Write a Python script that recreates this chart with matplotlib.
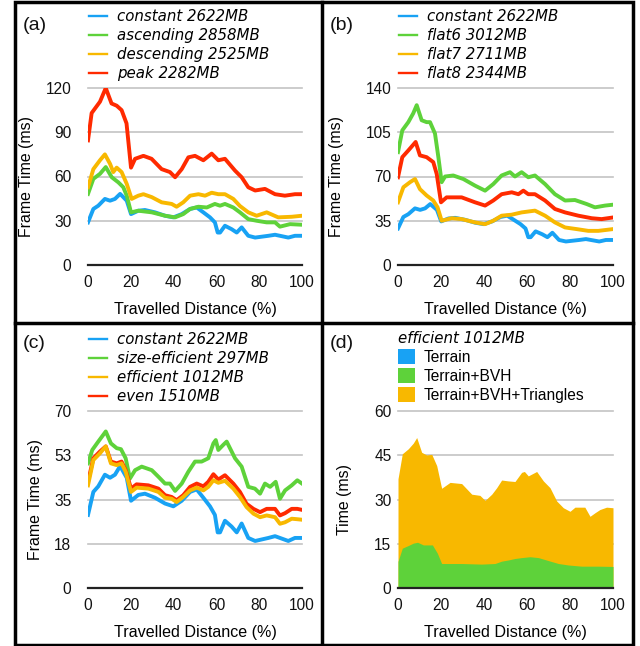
import matplotlib.pyplot as plt
from matplotlib.patches import Patch, Rectangle
from matplotlib.lines import Line2D

plt.rcParams['font.family'] = ['Liberation Sans', 'DejaVu Sans']

# ---------- data ----------
# constant 2622MB, shared by panels a, b, c
const_x = [0, 2.5, 4.8, 7.9, 10.3, 12.6, 15, 16.5, 18.1, 20.1, 23.5, 26.6, 31.3, 36,
           39.9, 43.8, 47.7, 50.8, 53.9, 57, 59.3, 60.6, 61.7, 64, 67.1, 69.5, 71.8,
           74.9, 78.1, 84.3, 87.4, 93.6, 96.7, 100]
const_y = [28.9, 38, 40.2, 44.8, 43.6, 44.8, 48.2, 46, 43.6, 34.5, 36.8, 37.3, 35.7, 33.4,
           32.3, 34.5, 38, 39, 35.7, 32.3, 28.9, 22, 22, 26.6, 24.3, 22, 25.5,
           19.8, 18.6, 19.8, 20.5, 18.6, 19.8, 19.8]

# panel (a)
asc_x = [0, 2.5, 5.6, 8.3, 11.1, 14.2, 16.5, 18.1, 20.1, 23.5, 29.8, 36, 40.7, 44.5, 47.7,
         51.6, 55.5, 59.3, 61.7, 64, 67.9, 71, 74.9, 78.8, 83.5, 87.4, 89.7, 94.4, 100]
asc_y = [48.2, 58.4, 61.8, 66.4, 59.5, 56, 52.7, 47, 35.7, 36.8, 35.7, 33.4, 32.3, 34.5, 38,
         39.5, 39, 41.4, 40.2, 41.4, 39, 35.7, 31.1, 30, 28.9, 28.9, 26, 27.7, 27.3]
desc_x = [0, 2.5, 5.6, 7.9, 10.3, 11.8, 13.4, 15.7, 18.1, 20.4, 23.5, 25.9, 29.8, 34.4, 39.1,
          41.4, 44.5, 47.7, 51.6, 54.7, 57.8, 60.9, 64, 67.9, 71, 74.9, 78.8, 83.5, 88.9, 95.2, 100]
desc_y = [52.7, 65, 71, 75, 68.6, 63, 66, 63, 55, 44.8, 47, 48, 46, 42.5, 41.4,
          39.5, 42.5, 47, 48, 47, 49, 48, 48, 44.8, 40, 35.7, 33.4, 35.7, 32.3, 32.7, 33.4]
peak_x = [0, 1.7, 5.6, 8.3, 11, 13.4, 15.7, 18, 20.1, 22, 25.9, 29.7, 34.4, 38.3, 40.7, 43.8,
          46.9, 50, 53.9, 57.8, 60.9, 64, 68.7, 71.8, 74.9, 78.1, 82.7, 87.4, 92, 96.7, 100]
peak_y = [84.5, 103, 110.7, 120, 109.5, 108, 105, 96, 66, 72, 74, 72, 65, 63, 59.5, 65,
          73, 74, 71, 75.5, 71, 72, 64, 59.5, 52.7, 50.5, 51.6, 48, 47, 48, 48]

# panel (b)
flat6_x = [0, 2, 4.8, 7.1, 8.7, 11, 13.3, 14.9, 17.2, 18.8, 20.3, 21.9, 25.7, 30.4, 35.8, 40.5,
           44.3, 48.2, 52.1, 54.4, 57.5, 60.6, 63.7, 68.4, 73, 77.7, 82.3, 87.8, 91.6, 96.3, 100]
flat6_y = [89.3, 106.5, 113, 120, 126.4, 114.5, 113, 113, 104, 85, 65.5, 70, 70.8, 68, 62.8, 58.8,
           64, 70.8, 73.4, 70, 73.4, 69.4, 70.8, 64, 56, 51, 51.4, 48.2, 45.6, 47, 47.7]
flat7_x = [0, 2.5, 5.6, 7.9, 10.2, 13.3, 16.4, 18.4, 20.3, 25, 29.6, 35.8, 40.5, 44.3, 48.2,
           52.9, 57.5, 63.7, 68.4, 73, 77.7, 83.1, 88.5, 93.2, 100]
flat7_y = [49.6, 61.5, 65.5, 68, 60, 55, 51, 45.6, 35, 37, 36.3, 33.7, 32.3, 35, 39,
           39.8, 41.6, 43, 39, 33.7, 29.7, 28.4, 27, 27, 28.4]
flat8_x = [0, 2, 4.8, 8.2, 10.2, 13.3, 16.4, 18, 20, 22.6, 29.6, 35.8, 40.5, 44.3, 48.2, 52.9,
           56, 58.3, 60.6, 63.7, 68.4, 73, 77.7, 83.9, 90.1, 94.7, 100]
flat8_y = [69.4, 85.3, 90.6, 97.3, 86.7, 85.3, 81.4, 72, 49.6, 53.5, 53.5, 49.6, 47, 51, 56, 57.5,
           56, 58.8, 56, 56, 51, 44.3, 41.6, 39, 37, 36.3, 37.6]

# panel (c)
sizeeff_x = [0, 2, 4.8, 8.3, 10.7, 13.4, 15.4, 17.6, 19.6, 22, 25.1, 29.8, 32.9, 36, 38.3, 40.7,
             43.8, 46.9, 50, 53.1, 56.2, 58.6, 59.7, 60.9, 63.2, 64.8, 68.7, 71.8, 74.9, 78,
             80.4, 82.7, 85.1, 87.7, 89.7, 92.1, 95.2, 97.8, 100]
sizeeff_y = [49.3, 54.6, 57.9, 61.9, 57.2, 55.3, 54.9, 51.3, 43.3, 46.6, 48, 46.6, 44, 41.3, 41.3, 38.4,
             41.3, 46, 50, 50, 51.3, 57.2, 58.5, 54.6, 56.6, 57.9, 51.3, 48, 40, 39.3,
             37.3, 41.3, 40, 42, 35.3, 38.6, 40.6, 42.6, 41.3]
even_x = [0, 2.5, 5.6, 8.3, 10.7, 13.4, 15.7, 17.6, 20.1, 22.7, 28.2, 32.9, 36, 39.1, 41.4, 44.5,
          47.7, 50.8, 53.9, 56.2, 58.6, 60.9, 64, 67.9, 71, 74.1, 77.3, 80.4, 83.5, 87.4, 89.7,
          92.1, 95.2, 97.8, 100]
even_y = [42, 51.3, 54, 56, 50, 49.3, 50, 46.6, 39.3, 41, 40.6, 39.3, 36.7, 36, 34.7, 36.7,
          40, 41.3, 40.2, 42, 45, 42.9, 44.6, 41.3, 38, 33.3, 31.3, 30, 31.3, 31.3, 28.7,
          29.6, 31.3, 31.3, 30.9]
eff_x = even_x
eff_y = [40.6, 50.6, 53.3, 56, 49.3, 48.6, 49.3, 46, 38, 39.7, 39.3, 38, 35.7, 35.3, 34, 36,
         38.6, 39.7, 38.6, 40, 42.6, 41.6, 42.4, 39.3, 36, 32, 29.4, 28, 28.7, 28, 25.4,
         26, 27.4, 27.2, 27]

# panel (d): efficient 1012MB breakdown (cumulative)
tri_x = [0, 2, 4.8, 7.1, 8.7, 11, 13.3, 15.7, 18, 20.3, 24.2, 29.6, 34.3, 38.1, 40.5, 43.6, 45.9,
         48.2, 51.3, 54.4, 57.5, 58.8, 60.6, 64.5, 67.6, 70.7, 73.8, 76.9, 80, 82.3, 86.9, 89.3,
         91.6, 93.9, 97, 100]
tri_y = [37, 45.5, 47.2, 49.1, 51, 46, 45.1, 45.3, 41.5, 33.8, 35.8, 35.4, 31.8, 31.4, 29.7, 31.8, 34,
         36.6, 36.3, 36.1, 39.2, 39.5, 38, 39.5, 36.3, 34, 29.5, 27.2, 26, 27.4, 27.4, 24.3,
         25.5, 26.6, 27.4, 27.2]
bvh_x = [0, 2, 4.8, 7.1, 9.1, 11.8, 16, 18.3, 20.3, 29.6, 38.9, 45.1, 48.2, 51.3, 54.4, 57.5,
         61.4, 65.3, 69.9, 74.6, 79.2, 85.4, 93.2, 100]
bvh_y = [9, 13.5, 14.4, 15.2, 15.5, 14.6, 14.6, 11.8, 8.3, 8.3, 8.1, 8.3, 9.1, 9.5, 10, 10.3,
         10.6, 10.3, 9.3, 8.3, 7.8, 7.4, 7.4, 7.3]
terrain_x = [0, 100]
terrain_y = [0.5, 0.5]

BLUE = '#18a2f4'
GREEN = '#5ed23a'
YELLOW = '#f8b800'
RED = '#ff2a00'
FS = 11.2
LEG_FONT = {'family': 'DejaVu Sans', 'style': 'italic', 'size': 10.8}

# ---------- figure ----------
W, H = 640, 646
fig = plt.figure(figsize=(W / 100, H / 100), dpi=100)


def px_axes(left, top, right, bottom):
    return fig.add_axes([left / W, 1 - bottom / H, (right - left) / W, (bottom - top) / H])


def style(ax, ymax, yticks, ylabels, ypad, ylab, ylab_x):
    ax.set_xlim(0, 100)
    ax.set_ylim(0, ymax)
    ax.set_xticks(range(0, 101, 20))
    ax.set_yticks(yticks, ylabels)
    for s in ['left', 'right', 'top']:
        ax.spines[s].set_visible(False)
    ax.spines['bottom'].set_color('#222222')
    ax.spines['bottom'].set_linewidth(1.6)
    ax.spines['bottom'].set_zorder(5)
    ax.tick_params(length=0, labelsize=FS, colors='#111111')
    ax.tick_params(axis='y', pad=ypad)
    ax.tick_params(axis='x', pad=7)
    ax.yaxis.grid(True, color='#c4c4c4', lw=1.2)
    ax.set_axisbelow(True)
    for gl in ax.get_ygridlines():
        gl.set_clip_on(False)
    ax.set_xlabel('Travelled Distance (%)', fontsize=11.6, va='center')
    ax.xaxis.set_label_coords(0.5, -0.25)
    ax.set_ylabel(ylab, fontsize=11.4, va='center')
    ax.yaxis.set_label_coords(ylab_x, 0.5)


def line_legend(ax, x, y, handles=None, labels=None):
    if handles is None:
        handles, labels = ax.get_legend_handles_labels()
    proxies = [Line2D([], [], color=hd.get_color(), lw=1.7) for hd in handles]
    ax.legend(proxies, labels, loc='upper left', bbox_to_anchor=(x / W, 1 - y / H),
              bbox_transform=fig.transFigure, frameon=False, prop=LEG_FONT,
              handlelength=1.2, handletextpad=0.65, labelspacing=0.27,
              borderpad=0, borderaxespad=0)


LW = 2.8

# (a)
ax = px_axes(88, 88, 302, 265)
ax.plot(const_x, const_y, color=BLUE, lw=LW, label='constant 2622MB')
ax.plot(asc_x, asc_y, color=GREEN, lw=LW, label='ascending 2858MB')
ax.plot(desc_x, desc_y, color=YELLOW, lw=LW, label='descending 2525MB')
ax.plot(peak_x, peak_y, color=RED, lw=LW, label='peak 2282MB')
style(ax, 120, [0, 30, 60, 90, 120], ['0', '30', '60', '90', '120'], 12, 'Frame Time (ms)', -0.287)
line_legend(ax, 89, 9)

# (b)
ax = px_axes(398, 88, 613, 265)
ax.plot(const_x, const_y, color=BLUE, lw=LW, label='constant 2622MB')
ax.plot(flat6_x, flat6_y, color=GREEN, lw=LW, label='flat6 3012MB')
ax.plot(flat7_x, flat7_y, color=YELLOW, lw=LW, label='flat7 2711MB')
ax.plot(flat8_x, flat8_y, color=RED, lw=LW, label='flat8 2344MB')
style(ax, 140, [0, 35, 70, 105, 140], ['0', '35', '70', '105', '140'], 4.7, 'Frame Time (ms)', -0.288)
line_legend(ax, 399, 9)

# (c)
ax = px_axes(88, 411, 302, 588)
ax.plot(const_x, const_y, color=BLUE, lw=LW, label='constant 2622MB')
ax.plot(sizeeff_x, sizeeff_y, color=GREEN, lw=LW, label='size-efficient 297MB')
ax.plot(even_x, even_y, color=RED, lw=LW, label='even 1510MB')
ax.plot(eff_x, eff_y, color=YELLOW, lw=LW, label='efficient 1012MB')
style(ax, 70, [0, 17.5, 35, 52.5, 70], ['0', '18', '35', '53', '70'], 12, 'Frame Time (ms)', -0.245)
h, l = ax.get_legend_handles_labels()
order = [0, 1, 3, 2]
line_legend(ax, 89, 332, [h[i] for i in order], [l[i] for i in order])

# (d)
ax = px_axes(398, 411, 613, 588)
ax.fill_between(tri_x, 0, tri_y, color=YELLOW, lw=0)
ax.fill_between(bvh_x, 0, bvh_y, color=GREEN, lw=0)
ax.fill_between(terrain_x, 0, terrain_y, color=BLUE, lw=0)
style(ax, 60, [0, 15, 30, 45, 60], ['0', '15', '30', '45', '60'], 4.7, 'Time (ms)', -0.247)
patches = [Patch(facecolor=BLUE, edgecolor='none'), Patch(facecolor=GREEN, edgecolor='none'),
           Patch(facecolor=YELLOW, edgecolor='none')]
ax.legend(patches, ['Terrain', 'Terrain+BVH', 'Terrain+BVH+Triangles'], loc='upper left',
          bbox_to_anchor=(398 / W, 1 - 331 / H), bbox_transform=fig.transFigure,
          frameon=False, prop={'size': FS}, title='efficient 1012MB',
          title_fontproperties=LEG_FONT, alignment='left',
          handlelength=1.1, handleheight=1.12, handletextpad=0.55, labelspacing=0.2,
          borderpad=0, borderaxespad=0)

# panel labels
for lab, x, y in [('(a)', 23, 26), ('(b)', 330, 26), ('(c)', 23, 344), ('(d)', 330, 344)]:
    fig.text(x / W, 1 - y / H, lab, fontsize=14, ha='left', va='center', color='#111111')

# frame and dividers
fig.add_artist(Rectangle((15 / W, 1 - 645 / H), 618 / W, 643 / H, transform=fig.transFigure,
                         fill=False, edgecolor='black', lw=2.5))
fig.add_artist(Line2D([322 / W, 322 / W], [1 - 645 / H, 1 - 2 / H], transform=fig.transFigure,
                      color='black', lw=2.5))
fig.add_artist(Line2D([15 / W, 633 / W], [1 - 323 / H, 1 - 323 / H], transform=fig.transFigure,
                      color='black', lw=2.5))

fig.savefig('out.png', dpi=100)
